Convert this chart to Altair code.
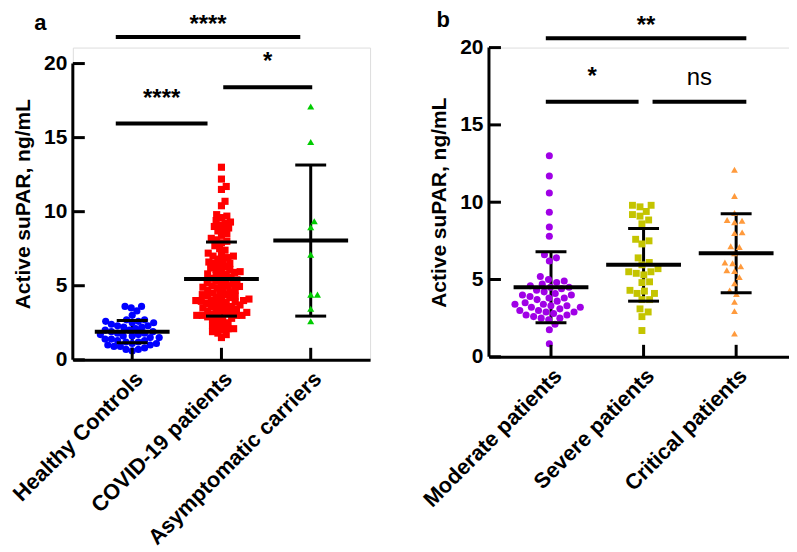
import math
import altair as alt
import pandas as pd

# ---------------- data ----------------
cats_a = ["Healthy Controls", "COVID-19 patients", "Asymptomatic carriers"]
healthy = [3.6, 3.6, 3.5, 3.3, 3.0, 2.7, 2.7, 2.6, 2.6, 2.5, 2.5, 2.4, 2.3, 2.3, 2.2,
           2.2, 2.1, 2.0, 2.0, 1.9, 1.9, 1.8, 1.8, 1.7, 1.7, 1.6, 1.6, 1.5, 1.5, 1.4,
           1.4, 1.3, 1.3, 1.2, 1.2, 1.1, 1.1, 1.0, 1.0, 0.9, 0.9, 0.8, 0.7, 0.7, 0.6]
covid = [13.0, 12.2, 11.7, 11.5, 10.7, 10.4,
         9.8, 9.7, 9.6, 9.4, 9.3, 9.2, 9.1, 9.0,
         8.9, 8.8, 8.7, 8.5, 8.4, 8.2, 8.1, 8.0,
         7.9, 7.7, 7.5, 7.4, 7.2, 7.1, 7.0, 7.0,
         6.9, 6.8, 6.7, 6.6, 6.5, 6.5, 6.4, 6.3, 6.2, 6.1, 6.1, 6.0,
         5.95, 5.9, 5.8, 5.8, 5.7, 5.6, 5.6, 5.5, 5.4, 5.4, 5.3, 5.2, 5.2, 5.1, 5.0, 5.0,
         4.95, 4.9, 4.85, 4.8, 4.7, 4.7, 4.6, 4.5, 4.5, 4.4, 4.4, 4.3, 4.3, 4.2, 4.2,
         4.1, 4.1, 4.0, 4.0, 4.0,
         3.95, 3.9, 3.9, 3.8, 3.8, 3.7, 3.7, 3.6, 3.6, 3.5, 3.5, 3.4, 3.4, 3.3, 3.3,
         3.2, 3.2, 3.1, 3.1, 3.0, 3.0, 3.0, 3.0, 3.0,
         2.9, 2.8, 2.8, 2.7, 2.6, 2.5, 2.4, 2.3, 2.2, 2.1, 2.1, 2.0,
         1.9, 1.8, 1.7, 1.5]
asymptomatic = [17.1, 14.7, 9.35, 8.95, 7.1, 4.4, 4.4, 3.45, 2.6]
means_a = [1.9, 5.45, 8.05]
sds_a = [0.75, 2.5, 5.1]
sig_a_labels = ["****", "*", "****"]
sig_a_y = [21.8, 18.4, 15.95]
sig_a_from = ["Healthy Controls", "COVID-19 patients", "Healthy Controls"]
sig_a_to = ["Asymptomatic carriers", "Asymptomatic carriers", "COVID-19 patients"]

cats_b = ["Moderate patients", "Severe patients", "Critical patients"]
moderate = [13.0, 11.7, 10.6, 9.35, 8.4, 7.8, 6.6, 6.4, 6.2,
            5.2, 5.0, 4.9, 4.8, 4.7, 4.6, 4.5, 4.5, 4.4, 4.3, 4.2, 4.1, 4.0, 4.0,
            3.9, 3.8, 3.8, 3.7, 3.6, 3.5, 3.4, 3.4, 3.3, 3.3, 3.2, 3.2, 3.1, 3.0,
            3.0, 2.9, 2.9, 2.8, 2.7, 2.7, 2.6, 2.5, 2.5, 2.4,
            2.1, 1.75, 0.85]
severe = [9.8, 9.8, 9.7, 9.4, 9.2, 9.1, 8.85, 8.6, 7.6, 7.5, 7.3, 6.4, 6.1, 5.95,
          5.7, 5.5, 5.5, 5.4, 5.3, 4.85, 4.8, 4.3, 4.25, 4.1, 4.1, 3.7, 3.7, 3.1,
          2.9, 2.6, 1.7]
critical = [12.1, 10.4, 9.3, 8.85, 8.8, 8.7, 8.05, 8.0, 7.15, 7.1, 6.7, 6.1, 6.05,
            5.85, 5.6, 5.55, 5.15, 4.75, 4.3, 4.05, 3.55, 2.95, 1.5]
means_b = [4.5, 5.95, 6.7]
sds_b = [2.3, 2.35, 2.55]
sig_b_labels = ["**", "*", "ns"]
sig_b_y = [20.6, 16.5, 16.5]
sig_b_from = ["Moderate patients", "Moderate patients", "Severe patients"]
sig_b_to = ["Critical patients", "Severe patients", "Critical patients"]

y_ticks = [0, 5, 10, 15, 20]

# ---------------- styling / layout ----------------
FONT = "Liberation Sans"
colors_a = ["#0000FF", "#FF0000", "#00CC00"]
shapes_a = ["circle", "square", "triangle-up"]
sizes_a = [52, 50, 32]
dia_a = [6.6, 5.8, 7.0]
colors_b = ["#A000E6", "#C4C400", "#FF9A3C"]
shapes_b = ["circle", "square", "triangle-up"]
sizes_b = [50, 46, 40]
dia_b = [8.0, 8.0, 8.0]
# band fractions of bar ends (start, end) and text lift above each bar
sig_a_band = [(0.316, 0.383), (0.52, 0.517), (0.316, 0.344)]
sig_a_dy = [-5, -18, -18]
sig_b_band = [(0.444, 0.61), (0.444, 0.446), (0.597, 0.61)]
sig_b_dy = [-5, -18, -17]


def swarm(values, ppu, d):
    order = sorted(range(len(values)), key=lambda i: values[i])
    placed = []
    offs = [0.0] * len(values)
    for i in order:
        y = values[i] * ppu
        cands = [0.0]
        for px, py in placed:
            dy = abs(py - y)
            if dy < d:
                dx = math.sqrt(d * d - dy * dy)
                cands += [px + dx, px - dx]
        cands.sort(key=abs)
        for c in cands:
            if all((c - px) ** 2 + (y - py) ** 2 >= d * d - 1e-6 for px, py in placed):
                offs[i] = c
                break
        placed.append((offs[i], y))
    return offs


def panel(cats, groups, means, sds, colors, shapes, sizes, dias, W, H20, extra, po,
          s_from, s_to, s_band, s_y, s_lab, s_dy, title, tdx, tdy):
    # H20: pixel height from 0 to 20; extra: additional pixels above 20
    n = len(cats)
    H = H20 + extra
    ppu = H20 / 20.0
    ytop = 20.0 + extra / ppu
    step = W / (n + 2 * po)
    half = step / 2
    rows = []
    for c, vals, d in zip(cats, groups, dias):
        offs = swarm(vals, ppu, d)
        for v, o in zip(vals, offs):
            rows.append({"group": c, "value": v, "off": o})
    df = pd.DataFrame(rows)
    summ = pd.DataFrame({"group": cats, "mean": means,
                         "lo": [m - s for m, s in zip(means, sds)],
                         "hi": [m + s for m, s in zip(means, sds)]})

    xs = alt.Scale(domain=cats, paddingInner=0, paddingOuter=po)
    ys = alt.Scale(domain=[0, ytop], nice=False, zero=True)
    xaxis = alt.Axis(title=None, labelAngle=-45, labelFont=FONT, labelFontSize=21.7,
                     labelFontWeight="bold", labelColor="black", labelPadding=8,
                     ticks=False, tickSize=0, domainWidth=3, domainColor="black",
                     grid=False, labelLimit=400)
    yaxis = alt.Axis(values=y_ticks, title="Active suPAR, ng/mL", titleFont=FONT,
                     titleFontSize=21, titleFontWeight="bold", titleColor="black",
                     titlePadding=10, labelFont=FONT, labelFontSize=21,
                     labelFontWeight="bold", labelColor="black", labelPadding=6,
                     ticks=False, tickSize=0, domain=False, grid=False)

    def X(field, band=0.5):
        return alt.X(field, type="nominal", scale=xs, axis=xaxis, bandPosition=band)

    def Y(field):
        return alt.Y(field, type="quantitative", scale=ys, axis=yaxis)

    base_s = alt.Chart(summ)
    vline = base_s.mark_rule(color="black", strokeWidth=3).encode(
        x=X("group"), y=Y("lo"), y2="hi")
    pts = alt.Chart(df).mark_point(filled=True, opacity=1, strokeWidth=0).encode(
        x=X("group"),
        xOffset=alt.XOffset("off:Q", scale=alt.Scale(domain=[-half, half])),
        y=Y("value"),
        color=alt.Color("group:N", scale=alt.Scale(domain=cats, range=colors), legend=None),
        shape=alt.Shape("group:N", scale=alt.Scale(domain=cats, range=shapes), legend=None),
        size=alt.Size("group:N", scale=alt.Scale(domain=cats, range=sizes), legend=None),
    )
    mean_t = base_s.mark_tick(color="black", opacity=1, size=75, thickness=4).encode(
        x=X("group"), y=Y("mean"))
    cap_lo = base_s.mark_tick(color="black", opacity=1, size=31, thickness=3).encode(
        x=X("group"), y=Y("lo"))
    cap_hi = base_s.mark_tick(color="black", opacity=1, size=31, thickness=3).encode(
        x=X("group"), y=Y("hi"))

    # y axis line (0 to 20) and inward ticks
    yline = alt.Chart(pd.DataFrame({"y0": [min(y_ticks)], "y1": [max(y_ticks)]})).mark_rule(
        color="black", strokeWidth=3).encode(x=alt.value(0), y=Y("y0"), y2="y1")
    yt = alt.Chart(pd.DataFrame({"t": y_ticks})).mark_rule(color="black", strokeWidth=3).encode(
        y=Y("t"), x=alt.value(0), x2=alt.value(12))
    xt = alt.Chart(pd.DataFrame({"group": cats})).mark_rule(color="black", strokeWidth=3).encode(
        x=X("group"), y=alt.value(H), y2=alt.value(H - 12))

    layers = [vline, pts, mean_t, cap_lo, cap_hi, yline, yt, xt]
    for f, t, (b1, b2), yv, lab, tdy_i in zip(s_from, s_to, s_band, s_y, s_lab, s_dy):
        i1, i2 = cats.index(f), cats.index(t)
        mid = ((i1 + b1) + (i2 + b2)) / 2.0
        im = int(math.floor(mid))
        bm = mid - im
        d1 = pd.DataFrame({"a": [f], "b": [t], "m": [cats[im]], "y": [yv], "lab": [lab]})
        bar = alt.Chart(d1).mark_rule(color="black", strokeWidth=4).encode(
            x=X("a", b1), x2=alt.X2("b", bandPosition=b2), y=Y("y"))
        star = "*" in lab
        txt = alt.Chart(d1).mark_text(font=FONT, fontSize=24, color="black",
                                      fontWeight="bold" if star else "normal",
                                      baseline="alphabetic", align="center",
                                      dy=tdy_i).encode(
            x=X("m", bm), y=Y("y"), text="lab:N")
        layers += [bar, txt]

    return alt.layer(*layers).properties(
        width=W, height=H,
        title=alt.Title(title, anchor="start", frame="bounds", font=FONT, fontSize=22,
                        fontWeight="bold", color="black", dx=tdx, dy=tdy))


pa = panel(cats_a, [healthy, covid, asymptomatic], means_a, sds_a, colors_a, shapes_a,
           sizes_a, dia_a, 298, 297, 16, 0.165, sig_a_from, sig_a_to, sig_a_band, sig_a_y,
           sig_a_labels, sig_a_dy, "a", 25, 26)
pb = panel(cats_b, [moderate, severe, critical], means_b, sds_b, colors_b, shapes_b,
           sizes_b, dia_b, 310, 310, 0, 0.17, sig_b_from, sig_b_to, sig_b_band, sig_b_y,
           sig_b_labels, sig_b_dy, "b", 17, 22)

chart = alt.hconcat(pa, pb, spacing=47.2).resolve_scale(
    color="independent", shape="independent", size="independent"
).properties(
    padding={"left": 0, "top": 0, "right": -10, "bottom": 0}
).configure_view(stroke=None).configure(background="white")

chart.save("out.html", embed_options={"renderer": "svg", "actions": False})
